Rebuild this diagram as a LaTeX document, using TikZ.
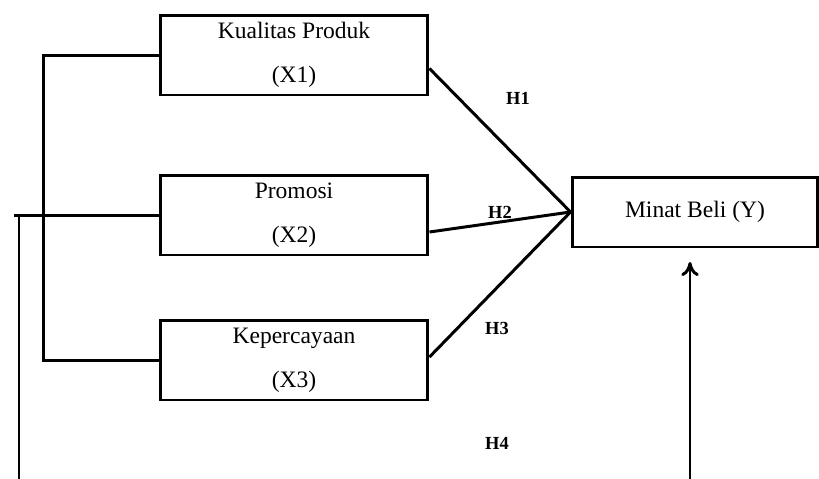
\documentclass[tikz,border=0pt]{standalone}
\usepackage{fontspec}
\setmainfont{Liberation Serif}
\usetikzlibrary{arrows,arrows.meta}

\begin{document}
\begin{tikzpicture}[
x=0.02cm, y=-0.02cm,
var/.style={draw, line width=1.7pt, minimum width=5.36cm, minimum height=1.6cm, align=center, inner sep=0pt, font=\fontsize{13.4}{25}\selectfont},
hyp/.style={font=\bfseries\fontsize{10.5}{12}\selectfont, inner sep=1pt},
line/.style={line width=1.7pt},
arrow/.style={-{To[length=8pt,width=10pt]},line width=1.7pt} ]

\useasboundingbox (0,0) rectangle (819,478);

\node[var] (X1) at (294,55) {Kualitas Produk\\(X1)};

\node[var] (X2) at (294,215) {Promosi\\(X2)};

\node[var] (X3) at (294,360) {Kepercayaan\\(X3)};

\node[var, minimum width=4.92cm, minimum height=1.4cm] (Y) at (695,212) {Minat Beli (Y)};

\coordinate (stub) at (14,215);
\coordinate (turn) at (19,215);
\coordinate (leftend) at (19,495);
\coordinate (arrowfoot) at (690,495);
\coordinate (arrowtip) at (690,262);

\draw[line] ([yshift=-0.27cm]X1.east) -- (Y.west);

\draw[line] ([yshift=-0.34cm]X2.east) -- (Y.west);

\draw[line] ([yshift=0.06cm]X3.east) -- (Y.west);

\draw[line] (X1.west) -- ++(-115,0) |- (X3.west);

\draw[line] (X2.west) -- (stub);

\draw[line] (turn) -- (leftend);

\draw[arrow] (arrowfoot) -- (arrowtip);

\node[hyp] (H1) at (518,98) {H1};
\node[hyp] (H2) at (500,212) {H2};
\node[hyp] (H3) at (497,328) {H3};
\node[hyp] (H4) at (497,443) {H4};

\end{tikzpicture}
\end{document}
